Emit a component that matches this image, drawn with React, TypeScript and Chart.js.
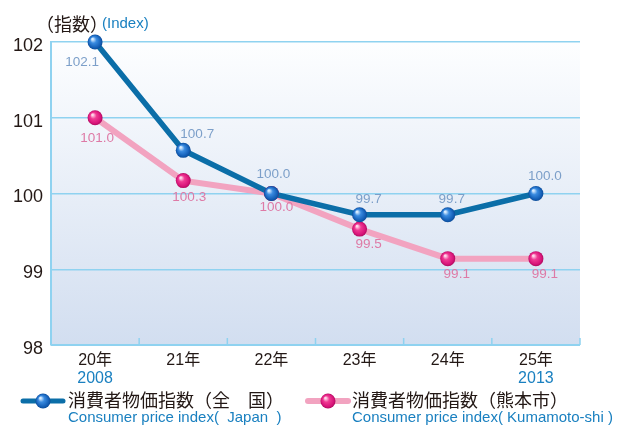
import React, { useEffect, useRef } from "react";
import { Chart, registerables } from "chart.js";

Chart.register(...registerables);

const categories = ["20年", "21年", "22年", "23年", "24年", "25年"];
const westernYears = ["2008", "", "", "", "", "2013"];
const japanValues = [102.0, 100.57, 100.0, 99.72, 99.72, 100.0];
const kumamotoValues = [101.0, 100.17, 100.0, 99.53, 99.14, 99.14];
const japanLabels = ["102.1", "100.7", "100.0", "99.7", "99.7", "100.0"];
const kumamotoLabels = ["101.0", "100.3", "100.0", "99.5", "99.1", "99.1"];
const yTickValues = [98, 99, 100, 101, 102];
const yMin = 98;
const yMax = 102;

const LATIN = "'Liberation Sans', Arial, 'Noto Sans CJK JP', sans-serif";
const JP = "'Noto Sans CJK JP', 'Liberation Sans', sans-serif";
const BLUE_TEXT = "#1a80c0";
const GRID = "#8fd2f0";
const JAPAN_LINE = "#0b6ea8";
const KUMA_LINE = "#f2a3c0";

// label offsets relative to point (styling)
const japanOffsets = [[-13, 20], [14, -16], [2, -19], [9, -15], [4, -15], [9, -17]];
const kumaOffsets = [[2, 21], [6, 17], [5, 14], [9, 15], [9, 16], [9, 16]];

function sphere(ctx: CanvasRenderingContext2D, x: number, y: number, r: number, kind: "blue" | "pink") {
  const g = ctx.createRadialGradient(x - r * 0.35, y - r * 0.4, r * 0.1, x, y, r);
  if (kind === "blue") {
    g.addColorStop(0, "#d8ecff");
    g.addColorStop(0.35, "#3a8be0");
    g.addColorStop(0.8, "#1560b8");
    g.addColorStop(1, "#0c4c98");
  } else {
    g.addColorStop(0, "#ffd6ea");
    g.addColorStop(0.35, "#f03a93");
    g.addColorStop(0.8, "#d8157a");
    g.addColorStop(1, "#b00a5e");
  }
  ctx.beginPath();
  ctx.arc(x, y, r, 0, Math.PI * 2);
  ctx.fillStyle = g;
  ctx.fill();
}

const decorPlugin = {
  id: "decor",
  beforeDraw(chart: any) {
    const { ctx, chartArea: a } = chart;
    ctx.save();
    const g = ctx.createLinearGradient(0, a.top, 0, a.bottom);
    g.addColorStop(0, "#fdfeff");
    g.addColorStop(1, "#d2def0");
    ctx.fillStyle = g;
    ctx.fillRect(a.left, a.top, a.right - a.left, a.bottom - a.top);
    ctx.restore();
  },
  afterDatasetsDraw(chart: any) {
    const { ctx, chartArea: a } = chart;
    const xs = chart.scales.x;
    const ys = chart.scales.y;
    ctx.save();
    // bottom border + inner ticks
    ctx.strokeStyle = GRID;
    ctx.lineWidth = 2;
    ctx.beginPath();
    ctx.moveTo(a.left, a.bottom);
    ctx.lineTo(a.right, a.bottom);
    ctx.stroke();
    ctx.lineWidth = 1.5;
    ctx.beginPath();
    const n = categories.length;
    const step = (a.right - a.left) / n;
    for (let i = 0; i <= n; i++) {
      const x = a.left + i * step;
      ctx.moveTo(x, a.bottom);
      ctx.lineTo(x, a.bottom - 7);
    }
    ctx.stroke();

    // y tick labels
    ctx.font = "18px " + LATIN;
    ctx.fillStyle = "#231815";
    ctx.textAlign = "right";
    ctx.textBaseline = "middle";
    yTickValues.forEach((v) => {
      ctx.fillText(String(v), a.left - 8, ys.getPixelForValue(v) + 4);
    });

    // points
    const m1 = chart.getDatasetMeta(1);
    const m0 = chart.getDatasetMeta(0);
    m1.data.forEach((p: any) => sphere(ctx, p.x, p.y, 7.5, "pink"));
    m0.data.forEach((p: any) => sphere(ctx, p.x, p.y, 7.5, "blue"));

    // value labels
    ctx.font = "13.5px " + LATIN;
    ctx.textAlign = "center";
    ctx.fillStyle = "#7c9fc9";
    m0.data.forEach((p: any, i: number) => {
      ctx.fillText(japanLabels[i], p.x + japanOffsets[i][0], p.y + japanOffsets[i][1]);
    });
    ctx.fillStyle = "#de7aa6";
    m1.data.forEach((p: any, i: number) => {
      ctx.fillText(kumamotoLabels[i], p.x + kumaOffsets[i][0], p.y + kumaOffsets[i][1]);
    });

    // x labels
    categories.forEach((c, i) => {
      const x = xs.getPixelForValue(i);
      ctx.font = "16px " + LATIN;
      ctx.fillStyle = "#231815";
      ctx.fillText(c, x, 361);
      if (westernYears[i]) {
        ctx.fillStyle = BLUE_TEXT;
        ctx.fillText(westernYears[i], x, 379);
      }
    });

    // axis title
    ctx.textAlign = "left";
    ctx.fillStyle = "#231815";
    ctx.font = "18px " + JP;
    ctx.fillText("（指数）", 36, 24);
    ctx.font = "15px " + LATIN;
    ctx.fillStyle = BLUE_TEXT;
    ctx.fillText("(Index)", 102, 24);

    // legend
    const legend = (x0: number, tx: number, color: string, kind: "blue" | "pink", jp: string, en: string, lw: number) => {
      ctx.strokeStyle = color;
      ctx.lineWidth = lw;
      ctx.lineCap = "round";
      ctx.beginPath();
      ctx.moveTo(x0, 401);
      ctx.lineTo(x0 + 40, 401);
      ctx.stroke();
      sphere(ctx, x0 + 20, 401, 7.5, kind);
      ctx.textAlign = "left";
      ctx.font = "18px " + JP;
      ctx.fillStyle = "#231815";
      ctx.fillText(jp, tx, 400);
      ctx.font = "15px " + LATIN;
      ctx.fillStyle = BLUE_TEXT;
      ctx.fillText(en, tx, 418);
    };
    legend(23, 68, JAPAN_LINE, "blue", "消費者物価指数（全　国）", "Consumer price index(  Japan  )", 5);
    legend(308, 352, KUMA_LINE, "pink", "消費者物価指数（熊本市）", "Consumer price index( Kumamoto-shi )", 6);
    ctx.restore();
  },
};

export default function App() {
  const ref = useRef<HTMLCanvasElement>(null);
  useEffect(() => {
    if (!ref.current) return;
    const chart = new Chart(ref.current, {
      type: "line",
      data: {
        labels: categories,
        datasets: [
          {
            data: japanValues,
            borderColor: JAPAN_LINE,
            borderWidth: 5.5,
            pointRadius: 0,
            tension: 0,
          },
          {
            data: kumamotoValues,
            borderColor: KUMA_LINE,
            borderWidth: 6,
            pointRadius: 0,
            tension: 0,
          },
        ],
      },
      options: {
        responsive: false,
        animation: false,
        layout: { padding: { top: 42, right: 37, bottom: 82, left: 0 } },
        plugins: { legend: { display: false }, tooltip: { enabled: false } },
        scales: {
          x: { display: false, offset: true },
          y: {
            min: yMin,
            max: yMax,
            afterFit: (s: any) => {
              s.width = 51;
            },
            ticks: { stepSize: 1, display: false },
            grid: { color: GRID, lineWidth: 1.5, drawTicks: false },
            border: { display: true, color: GRID, width: 2 },
          },
        },
      },
      plugins: [decorPlugin],
    });
    return () => chart.destroy();
  }, []);
  return (
    <div style={{ position: "absolute", left: 0, top: 0, width: 617, height: 427, background: "#fff" }}>
      <canvas ref={ref} width={617} height={427} style={{ width: 617, height: 427 }} />
    </div>
  );
}
